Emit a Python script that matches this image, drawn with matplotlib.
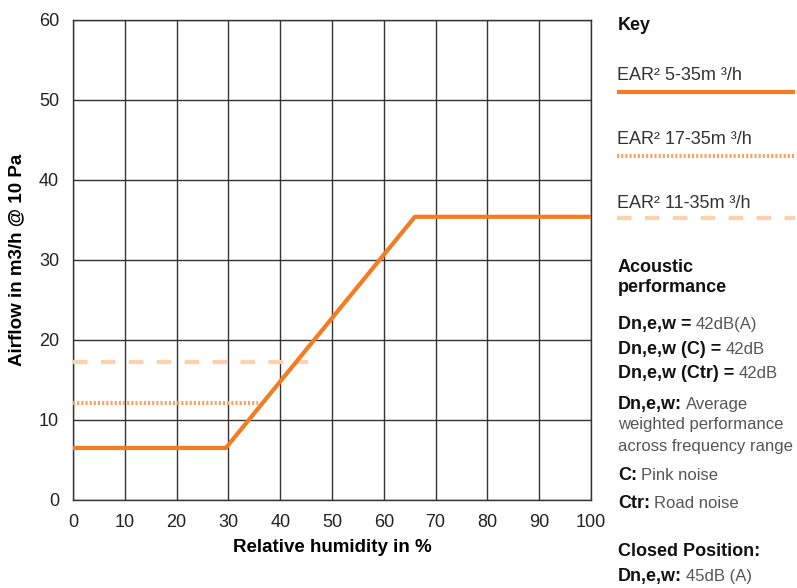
import matplotlib
matplotlib.use('Agg')
import matplotlib.pyplot as plt

plt.rcParams['font.family'] = ['Liberation Sans', 'DejaVu Sans']

# EAR2 5-35 curve (main)
hum_main = [0, 29.5, 66.0, 100]
flow_main = [6.5, 6.5, 35.4, 35.4]
# EAR2 17-35 (dotted)
hum_17 = [0, 35.7]
flow_17 = [12.1, 12.1]
# EAR2 11-35 (dashed)
hum_11 = [0, 45.4]
flow_11 = [17.2, 17.2]

x_ticks = list(range(0, 101, 10))
y_ticks = list(range(0, 61, 10))

c_main = '#F47B20'
c_17 = '#F8A164'
c_11 = '#FCD2AC'
grey_txt = '#555555'

fig = plt.figure(figsize=(7.97, 5.88), dpi=100)
ax = fig.add_axes([0.0916, 0.1497, 0.6499, 0.8163])

ax.plot(hum_main, flow_main, color=c_main, lw=3, solid_capstyle='butt', zorder=4)
ax.plot(hum_17, flow_17, color=c_17, lw=3, linestyle=(0, (0.5, 0.5)), zorder=3)
ax.plot(hum_11, flow_11, color=c_11, lw=3, linestyle=(0, (3.5, 3.2)), zorder=3)

ax.set_xlim(0, 100)
ax.set_ylim(0, 60)
ax.set_xticks(x_ticks)
ax.set_yticks(y_ticks)
ax.grid(True, color='#333333', lw=1)
for s in ax.spines.values():
    s.set_color('#333333')
    s.set_linewidth(1)
ax.tick_params(length=0, labelsize=13, colors='#222222')
ax.tick_params(axis='x', pad=10)
ax.tick_params(axis='y', pad=10)
ax.set_xlabel('Relative humidity in %', fontsize=13.5, fontweight='bold', labelpad=6)
ax.set_ylabel('Airflow in m3/h @ 10 Pa', fontsize=13.5, fontweight='bold', labelpad=10)

W, H = 797, 588
rend = fig.canvas.get_renderer()
body = 12


def ftext(x, y, s, **kw):
    return fig.text(x / W, 1 - y / H, s, va='center', ha='left', **kw)


def mixed(x, y, bold, reg, size=13):
    t = ftext(x, y, bold, fontsize=size, fontweight='bold', color='#111111')
    bb = t.get_window_extent(renderer=rend)
    ftext(bb.x1 + 4, y, reg, fontsize=body, color=grey_txt)


ftext(618, 25, 'Key', fontsize=13, fontweight='bold', color='#111111')

legend_items = [('EAR² 5-35m ³/h', 75, 92, c_main, '-'),
                ('EAR² 17-35m ³/h', 140, 156, c_17, (0, (0.5, 0.5))),
                ('EAR² 11-35m ³/h', 204, 218, c_11, (0, (3.5, 3.2)))]
for lab, ty, ly, col, ls in legend_items:
    ftext(617, ty, lab, fontsize=13, color='#333333')
    fig.add_artist(plt.Line2D([617 / W, 795 / W], [1 - ly / H, 1 - ly / H],
                              color=col, lw=3, linestyle=ls,
                              solid_capstyle='butt'))

ftext(618, 267, 'Acoustic', fontsize=13, fontweight='bold', color='#111111')
ftext(618, 288, 'performance', fontsize=13, fontweight='bold', color='#111111')

mixed(618, 325, 'Dn,e,w =', '42dB(A)')
mixed(618, 350, 'Dn,e,w (C) =', '42dB')
mixed(618, 374, 'Dn,e,w (Ctr) =', '42dB')
mixed(618, 404, 'Dn,e,w:', 'Average')
ftext(618, 425, 'weighted performance', fontsize=body, color=grey_txt)
ftext(618, 446, 'across frequency range', fontsize=body, color=grey_txt)
mixed(618, 475, 'C:', 'Pink noise')
mixed(618, 503, 'Ctr:', 'Road noise')
ftext(618, 551, 'Closed Position:', fontsize=13, fontweight='bold', color='#111111')
mixed(618, 577, 'Dn,e,w:', '45dB (A)')

fig.savefig('out.png', dpi=100)
